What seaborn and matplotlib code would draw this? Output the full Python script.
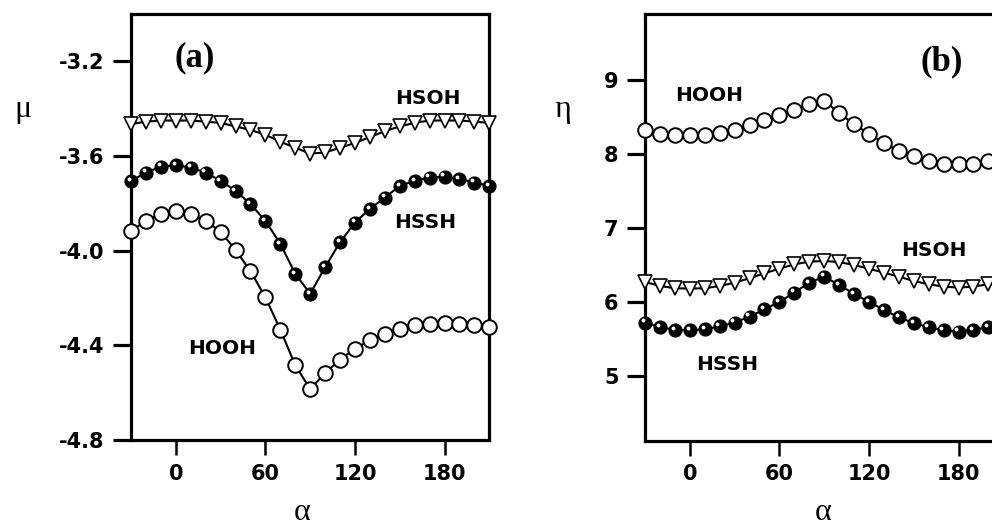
import matplotlib
matplotlib.use("Agg")
import matplotlib.pyplot as plt
import matplotlib.transforms as mtransforms
import pandas as pd
import seaborn as sns

# Torsion angle (degrees)
alpha_deg = list(range(-30, 211, 10))

# Chemical potential mu
mu_hsoh = [-3.465, -3.455, -3.45, -3.45, -3.45, -3.455, -3.46, -3.475, -3.49,
           -3.51, -3.54, -3.565, -3.59, -3.585, -3.565, -3.545, -3.52, -3.495,
           -3.475, -3.46, -3.45, -3.45, -3.45, -3.455, -3.46]
mu_hssh = [-3.705, -3.670, -3.645, -3.639, -3.649, -3.670, -3.705, -3.747,
           -3.803, -3.874, -3.971, -4.098, -4.182, -4.070, -3.964, -3.881,
           -3.823, -3.776, -3.726, -3.705, -3.691, -3.687, -3.697, -3.712,
           -3.726]
mu_hooh = [-3.916, -3.874, -3.844, -3.832, -3.844, -3.874, -3.920, -3.997,
           -4.087, -4.197, -4.334, -4.484, -4.585, -4.517, -4.460, -4.414,
           -4.379, -4.351, -4.330, -4.316, -4.309, -4.305, -4.309, -4.316,
           -4.324]

# Hardness eta
eta_hooh = [8.324, 8.279, 8.257, 8.257, 8.266, 8.288, 8.333, 8.392, 8.459,
            8.527, 8.604, 8.685, 8.721, 8.563, 8.405, 8.279, 8.153, 8.045,
            7.973, 7.910, 7.874, 7.865, 7.874, 7.910, 7.950]
eta_hsoh = [6.27, 6.216, 6.185, 6.18, 6.185, 6.216, 6.26, 6.32, 6.387, 6.45,
            6.509, 6.545, 6.554, 6.54, 6.5, 6.45, 6.396, 6.342, 6.284, 6.239,
            6.207, 6.194, 6.207, 6.239, 6.28]
eta_hssh = [5.72, 5.658, 5.622, 5.613, 5.631, 5.667, 5.72, 5.80, 5.90, 6.0,
            6.126, 6.26, 6.342, 6.23, 6.108, 6.0, 5.892, 5.793, 5.712, 5.658,
            5.613, 5.599, 5.622, 5.658, 5.70]

xticks = [0, 60, 120, 180]
mu_ticks = [-3.2, -3.6, -4.0, -4.4, -4.8]
eta_ticks = [5, 6, 7, 8, 9]

sns.set_theme(style="ticks")
plt.rcParams["font.family"] = ["DejaVu Sans"]
plt.rcParams["axes.unicode_minus"] = False
plt.rcParams["text.color"] = "black"

fig = plt.figure(figsize=(9.92, 5.27), dpi=100)
fig.patch.set_facecolor("white")
ax_a = fig.add_axes([0.1321, 0.1651, 0.3612, 0.8083])
ax_b = fig.add_axes([0.6502, 0.1638, 0.3612, 0.8096])

OPEN_CIRCLE = dict(marker="o", markersize=10.5, markerfacecolor="white",
                   markeredgecolor="black", markeredgewidth=1.4)
TRIANGLE = dict(marker="v", markersize=10.5, markerfacecolor="white",
                markeredgecolor="black", markeredgewidth=1.2)
BALL = dict(marker="o", markersize=9.4, markerfacecolor="black",
            markeredgecolor="black", markeredgewidth=0.8)


def curve(ax, y, style):
    df = pd.DataFrame({"alpha": alpha_deg, "value": y})
    sns.lineplot(data=df, x="alpha", y="value", ax=ax, color="black",
                 linewidth=1.5, clip_on=False, zorder=3, **style)
    if style is BALL:
        # small glossy highlight on the filled spheres
        hl = mtransforms.offset_copy(ax.transData, fig=fig, x=-2.2, y=2.2,
                                     units="dots")
        ax.plot(df["alpha"], df["value"], linestyle="none", marker="o",
                markersize=2.8, markerfacecolor="white",
                markeredgewidth=0, transform=hl, clip_on=False, zorder=4)


def style_axes(ax, yticks, ylim):
    ax.set_xlim(-30, 210)
    ax.set_ylim(*ylim)
    ax.set_xticks(xticks)
    ax.set_yticks(yticks)
    ax.set_xticklabels([str(t) for t in xticks])
    ax.set_xlabel("")
    ax.set_ylabel("")
    for s in ax.spines.values():
        s.set_visible(True)
        s.set_linewidth(2.3)
        s.set_color("black")
    ax.tick_params(axis="y", direction="out", length=13, width=2.3,
                   pad=6, labelsize=15, colors="black")
    ax.tick_params(axis="x", direction="out", length=11, width=1.8,
                   pad=6, labelsize=15, colors="black")
    ax.tick_params(top=False, right=False)
    for lab in ax.get_xticklabels() + ax.get_yticklabels():
        lab.set_fontweight("bold")
    ax.set_facecolor("white")


# (a) chemical potential
curve(ax_a, mu_hsoh, TRIANGLE)
curve(ax_a, mu_hssh, BALL)
curve(ax_a, mu_hooh, OPEN_CIRCLE)
style_axes(ax_a, mu_ticks, (-4.8, -3.0))
ax_a.set_yticklabels([f"{t:.1f}" for t in mu_ticks])
for lab in ax_a.get_yticklabels():
    lab.set_fontweight("bold")

lab_kw = dict(fontsize=14.5, fontweight="bold", ha="center", va="center",
              color="black")
ax_a.text(12.5, -3.186, "(a)", fontsize=25, fontweight="bold",
          family=["Liberation Serif"], ha="center", va="center",
          color="black")
ax_a.text(169, -3.355, "HSOH", **lab_kw)
ax_a.text(167, -3.881, "HSSH", **lab_kw)
ax_a.text(31, -4.414, "HOOH", **lab_kw)

# (b) hardness
curve(ax_b, eta_hooh, OPEN_CIRCLE)
curve(ax_b, eta_hsoh, TRIANGLE)
curve(ax_b, eta_hssh, BALL)
style_axes(ax_b, eta_ticks, (4.12, 9.9))
ax_b.set_yticklabels([str(t) for t in eta_ticks])
for lab in ax_b.get_yticklabels():
    lab.set_fontweight("bold")

ax_b.text(169, 9.247, "(b)", fontsize=25, fontweight="bold",
          family=["Liberation Serif"], ha="center", va="center",
          color="black")
ax_b.text(12.7, 8.797, "HOOH", **lab_kw)
ax_b.text(163.5, 6.703, "HSOH", **lab_kw)
ax_b.text(25, 5.149, "HSSH", **lab_kw)

# axis symbols
sym_kw = dict(fontsize=23, family=["Liberation Serif", "DejaVu Serif"],
              ha="center", va="center", color="black")
fig.text(23 / 992, 1 - 110 / 527, "μ", **sym_kw)
fig.text(563 / 992, 1 - 110 / 527, "η", **sym_kw)
fig.text(302 / 992, 1 - 512 / 527, "α", **sym_kw)
fig.text(823 / 992, 1 - 512 / 527, "α", **sym_kw)

fig.savefig("out.png", dpi=100, facecolor="white")
